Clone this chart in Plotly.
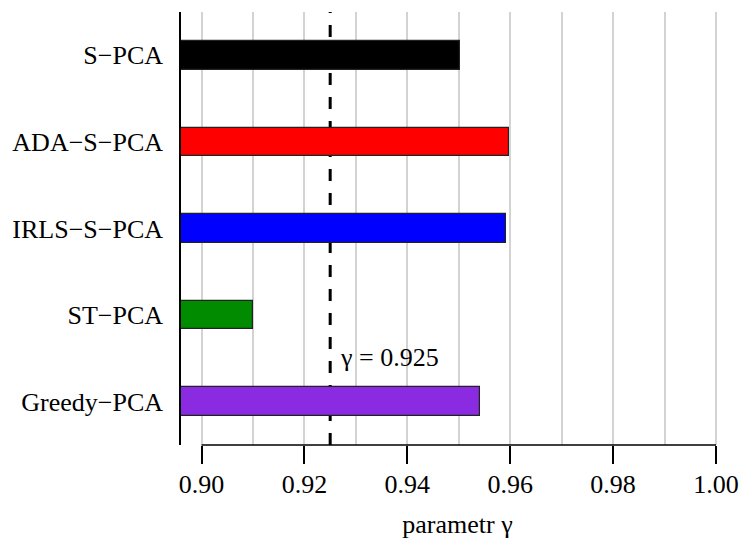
import plotly.graph_objects as go

methods = ["S\u2212PCA", "ADA\u2212S\u2212PCA", "IRLS\u2212S\u2212PCA", "ST\u2212PCA", "Greedy\u2212PCA"]
values = [0.9503, 0.9598, 0.9591, 0.9100, 0.9541]
colors = ["#000000", "#FF0000", "#0000FF", "#008B00", "#8A2BE2"]
gamma = 0.925
tick_vals = [0.90, 0.92, 0.94, 0.96, 0.98, 1.00]
tick_text = ["0.90", "0.92", "0.94", "0.96", "0.98", "1.00"]

FONT = "Liberation Serif"
FS = 26

fig = go.Figure()
fig.add_trace(go.Bar(
    y=methods, x=values, orientation="h",
    marker=dict(color=colors, line=dict(color="#222222", width=1.2)),
    width=0.33, showlegend=False,
))

fig.add_shape(type="line", xref="x", yref="paper", x0=gamma, x1=gamma, y0=0, y1=1,
              line=dict(color="black", width=3, dash="12px,12px"), layer="between")
fig.add_shape(type="line", xref="x", yref="paper", x0=min(tick_vals), x1=max(tick_vals), y0=0, y1=0,
              line=dict(color="black", width=1.5), layer="above")

fig.add_annotation(x=gamma, y=3.5, xref="x", yref="y", text="\u03b3 = 0.925",
                   showarrow=False, xanchor="left", yanchor="middle", xshift=8, yshift=1,
                   font=dict(family=FONT, size=FS, color="black"))

fig.update_layout(
    width=744, height=542,
    margin=dict(l=181, r=5, t=12, b=97),
    paper_bgcolor="white", plot_bgcolor="white",
    font=dict(family=FONT, size=FS, color="black"),
    bargap=0,
)
fig.update_xaxes(
    range=[0.896, 1.0035], tickvals=tick_vals, ticktext=tick_text,
    ticks="outside", ticklen=18, tickwidth=1.5, tickcolor="black",
    showline=False, zeroline=False,
    showgrid=True, gridcolor="#D3D3D3", gridwidth=1.5,
    minor=dict(dtick=0.01, tick0=0.90, showgrid=True, gridcolor="#D3D3D3", gridwidth=1.5, ticks=""),
    title=dict(text="parametr \u03b3", standoff=16, font=dict(family=FONT, size=FS)),
    tickfont=dict(family=FONT, size=FS), ticklabelstandoff=-2,
)
fig.update_yaxes(
    categoryorder="array", categoryarray=methods, range=[4.5, -0.5],
    showline=True, linecolor="black", linewidth=1.5,
    showgrid=False, zeroline=False, ticks="", ticklabelstandoff=11,
    tickfont=dict(family=FONT, size=FS),
)

fig.write_html("out.html")
